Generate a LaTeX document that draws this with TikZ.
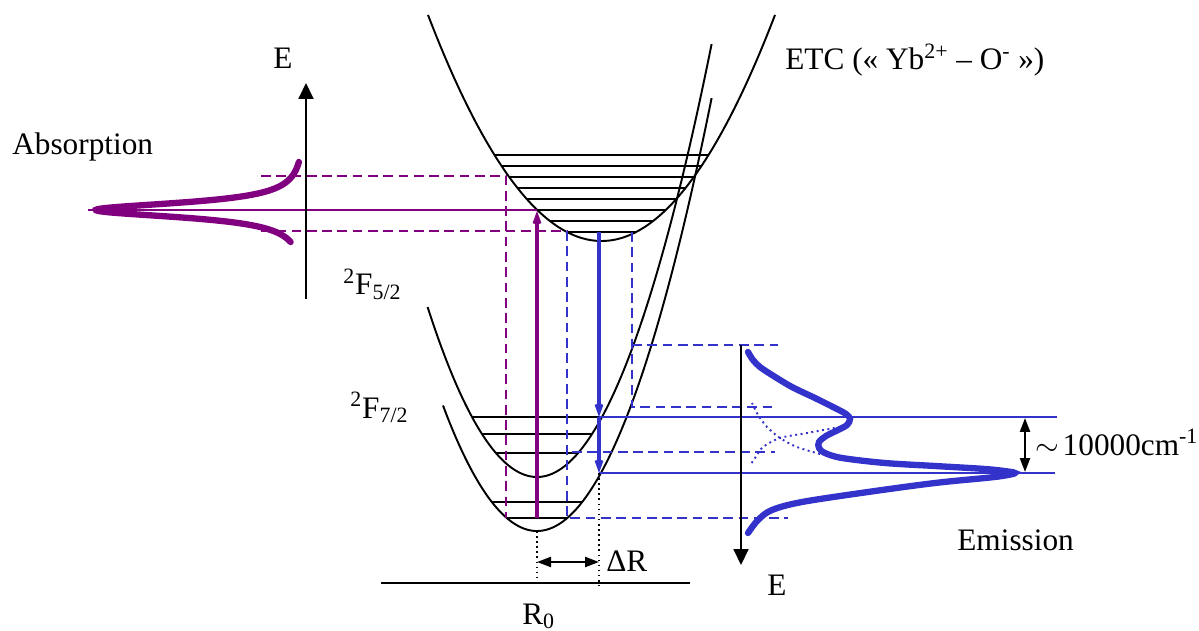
\documentclass[tikz,border=0pt]{standalone}
\usepackage{fontspec}
\setmainfont{Liberation Serif}
\usepackage{tikz}
\usetikzlibrary{arrows.meta,positioning,calc}
\definecolor{abspurple}{RGB}{128,0,128}
\definecolor{emblue}{RGB}{51,51,204}

\begin{document}
\begin{tikzpicture}[x=0.02cm,y=-0.02cm,
  font=\fontsize{17.8}{21}\selectfont,
  well/.style={line width=1.1pt},
  lvl/.style={line width=1.3pt},
  guide/.style={line width=1.1pt,dash pattern=on 5.5pt off 3.2pt},
  axis/.style={line width=1.1pt,-{Triangle[length=0.32cm,width=0.3cm]}},
  trans/.style={line width=2.4pt,-{Stealth[length=0.5cm,width=0.36cm,inset=0.33cm]}},
  spec/.style={line width=3.6pt,line cap=round},
  thin/.style={line width=1.2pt},
  dbl/.style={line width=1.3pt,{Triangle[length=0.28cm,width=0.2cm]}-{Triangle[length=0.28cm,width=0.2cm]}},
  lbl/.style={inner sep=0pt,anchor=base west},
]
  \useasboundingbox (0,0) rectangle (1199,631);

  % potential wells
  \draw[well] plot[domain=428:775,samples=120] ({\x},{241-0.751*((\x-601.5)/10)^2});
  \draw[well] plot[domain=427.6:711.6,samples=120] ({\x},{477-1.42*((\x-537)/10)^2});
  \draw[well] plot[domain=443:711.6,samples=120] ({\x},{531-1.42*((\x-537)/10)^2});

  \foreach \y in {155,166,...,232}{
    \pgfmathsetmacro\hw{10*sqrt((241-\y)/0.751)}
    \draw[lvl] ({601.5-\hw},\y) -- ({601.5+\hw},\y);
  }
  \foreach \y in {417,434,453}{
    \pgfmathsetmacro\hw{10*sqrt((477-\y)/1.42)}
    \draw[lvl] ({537-\hw},\y) -- ({537+\hw},\y);
  }
  \foreach \y in {502,518}{
    \pgfmathsetmacro\hw{10*sqrt((531-\y)/1.42)}
    \draw[lvl] ({537-\hw},\y) -- ({537+\hw},\y);
  }

  \coordinate (pbot) at (537,518);
  \coordinate (ptop) at (537,211);
  \coordinate (bstart) at (599,232);
  \coordinate (bmid) at (599,417);
  \coordinate (bend) at (599,473);

  % guide lines
  \draw[thin,abspurple] (88,210) -- (537,210);
  \draw[guide,abspurple] (261,176) -- (506,176) -- (506,518);
  \draw[guide,abspurple] (261,231) -- (567,231);
  \draw[guide,emblue] (567,231) -- (567,518) -- (788,518);
  \draw[guide,emblue] (632,232) -- (632,407) -- (773,407);
  \draw[guide,emblue] (632,345) -- (778,345);
  \draw[guide,emblue] (572,452) -- (775,452);
  \draw[thin,emblue] (bmid) -- (1057,417);
  \draw[thin,emblue] (bend) -- (1055,473);

  % transitions
  \draw[trans,abspurple] (pbot) -- (ptop);
  \draw[trans,emblue] (bstart) -- (bmid);
  \draw[trans,emblue] (bmid) -- (bend);

  % axes
  \draw[axis] (306,299) -- (306,83);
  \draw[axis] (741,345) -- (741,565);

  \draw[dotted,line width=0.9pt] (537,531) -- (537,586);
  \draw[dotted,line width=0.9pt] (bend) -- (599,586);
  \draw[line width=1.3pt] (381,583) -- (690,583);
  \draw[dbl] (537,562) -- (599,562);
  \draw[dbl] (1025,418) -- (1025,472);

  % spectra
  \draw[spec,abspurple] plot[domain=162:242,samples=150] ({306-210/(1+((\x-210)/9)^2)},{\x});
  \draw[spec,emblue] plot[smooth,tension=0.55] coordinates {(748,352) (753,360) (760,367)
    (772,375) (792,387) (815,398) (835,408) (846,414) (850,419) (847,425) (838,430)
    (826,436) (819,442) (819,448) (825,453) (842,458) (885,463) (935,466) (985,469)
    (1008,471.5) (1015,473) (1008,475) (990,477.5) (935,483) (868,492) (802,502)
    (772,510) (758,520) (748,533)};
  \draw[emblue,dotted,line width=1.1pt] plot[smooth] coordinates {(820,454) (797,447)
    (780,438) (767,427) (758,415) (752,403)};
  \draw[emblue,dotted,line width=1.1pt] plot[smooth] coordinates {(840,427) (807,433)
    (780,438) (763,447) (757,455) (751,464)};

  % labels
  \node[lbl,anchor=base] (eabs) at (283,69) {E};
  \node[lbl] (absorb) at (12,155) {Absorption};
  \node[lbl] (fhi) at (343,295) {\textsuperscript{2}F\textsubscript{5/2}};
  \node[lbl] (flo) at (350,418) {\textsuperscript{2}F\textsubscript{7/2}};
  \node[lbl] (etc) at (785,70) {ETC (« Yb\textsuperscript{2+} – O\textsuperscript{-} »)};
  \node[lbl] (emis) at (957,550) {Emission};
  \node[lbl] (eem) at (767,595) {E};
  \node[lbl] (dr) at (606,571) {ΔR};
  \node[lbl] (rzero) at (522,624) {R\textsubscript{0}};
  \node[lbl] (gap) at (1035,455) {$\sim$\hspace{0.12em}10000cm\textsuperscript{-1}};
\end{tikzpicture}
\end{document}
